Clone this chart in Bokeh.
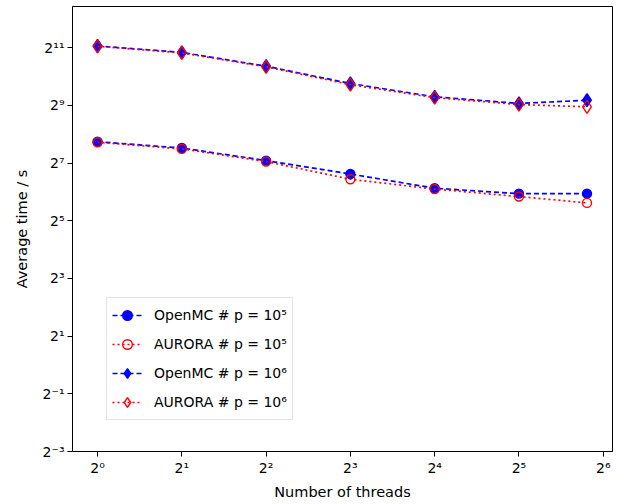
from bokeh.plotting import figure
from bokeh.models import Range1d, FixedTicker, CustomJSTickFormatter, Legend, LegendItem
from bokeh.embed import file_html
from bokeh.resources import INLINE

# ---- data ----
threads = [1, 2, 4, 8, 16, 32, 56]
openmc_1e5 = [214, 184, 136, 98.4, 70.0, 61.4, 61.4]
aurora_1e5 = [211, 180, 133, 86.8, 68.6, 57.3, 49.2]
openmc_1e6 = [2135, 1833, 1314, 867, 630, 537, 580]
aurora_1e6 = [2120, 1808, 1296, 843, 617, 523, 495]

x_ticks = [1, 2, 4, 8, 16, 32, 64]
y_ticks = [0.125, 0.5, 2, 8, 32, 128, 512, 2048]

labels = ["OpenMC # p = 10\u2075", "AURORA # p = 10\u2075",
          "OpenMC # p = 10\u2076", "AURORA # p = 10\u2076"]

BLUE = "#0000ff"
RED = "#ff0000"
FONT = "DejaVu Sans"

p = figure(width=619, height=504, x_axis_type="log", y_axis_type="log",
           x_range=Range1d(2 ** -0.297, 2 ** 6.11),
           y_range=Range1d(2 ** -3, 2 ** 12.43),
           output_backend="svg", toolbar_location=None,
           min_border_left=72, min_border_right=7,
           min_border_top=6, min_border_bottom=53)

p.xgrid.visible = False
p.ygrid.visible = False
p.outline_line_color = "black"
p.outline_line_width = 1
p.background_fill_color = "white"
p.border_fill_color = "white"

fmt_code = """
const sup = {'-':'\u207b','0':'\u2070','1':'\u00b9','2':'\u00b2','3':'\u00b3',
             '4':'\u2074','5':'\u2075','6':'\u2076','7':'\u2077','8':'\u2078','9':'\u2079'};
const e = Math.round(Math.log2(tick));
return '2' + String(e).split('').map(c => sup[c]).join('');
"""

p.xaxis.ticker = FixedTicker(ticks=x_ticks, minor_ticks=[])
p.yaxis.ticker = FixedTicker(ticks=y_ticks, minor_ticks=[])
for ax in (p.xaxis, p.yaxis):
    ax.formatter = CustomJSTickFormatter(code=fmt_code)
    ax.major_label_text_font = FONT
    ax.major_label_text_font_size = "14px"
    ax.major_label_text_color = "black"
    ax.axis_label_text_font = FONT
    ax.axis_label_text_font_size = "14.5px"
    ax.axis_label_text_font_style = "normal"
    ax.axis_label_text_color = "black"
    ax.axis_line_color = "black"
    ax.major_tick_line_color = "black"
    ax.major_tick_in = 0
    ax.major_tick_out = 5
    ax.minor_tick_line_color = None
    ax.major_label_standoff = 3

p.xaxis.axis_label = "Number of threads"
p.yaxis.axis_label = "Average time / s"
p.xaxis.axis_label_standoff = 5
p.yaxis.axis_label_standoff = 10

series = [
    (openmc_1e5, BLUE, "5 3", "circle", BLUE, 9),
    (aurora_1e5, RED, "2 3", "circle", None, 9),
    (openmc_1e6, BLUE, "5 3", "diamond", BLUE, 13),
    (aurora_1e6, RED, "2 3", "diamond", None, 13),
]

items = []
for (vals, col, dash, mk, fill, sz), lab in zip(series, labels):
    ln = p.line(threads, vals, line_color=col, line_width=1.7, line_dash=dash)
    sc = p.scatter(threads, vals, marker=mk, size=sz, line_color=col,
                   fill_color=fill, line_width=1.4)
    items.append(LegendItem(label=lab, renderers=[ln, sc]))

legend = Legend(items=items, location=(34, 31),
                label_text_font=FONT, label_text_font_size="14px",
                label_text_color="black",
                glyph_width=30, glyph_height=24, label_height=24,
                label_standoff=12, spacing=5, padding=5, margin=0,
                border_line_color="#cccccc", border_line_width=1,
                background_fill_color="white", background_fill_alpha=0.8)
p.add_layout(legend)

open("out.html", "w").write(file_html(p, INLINE))
